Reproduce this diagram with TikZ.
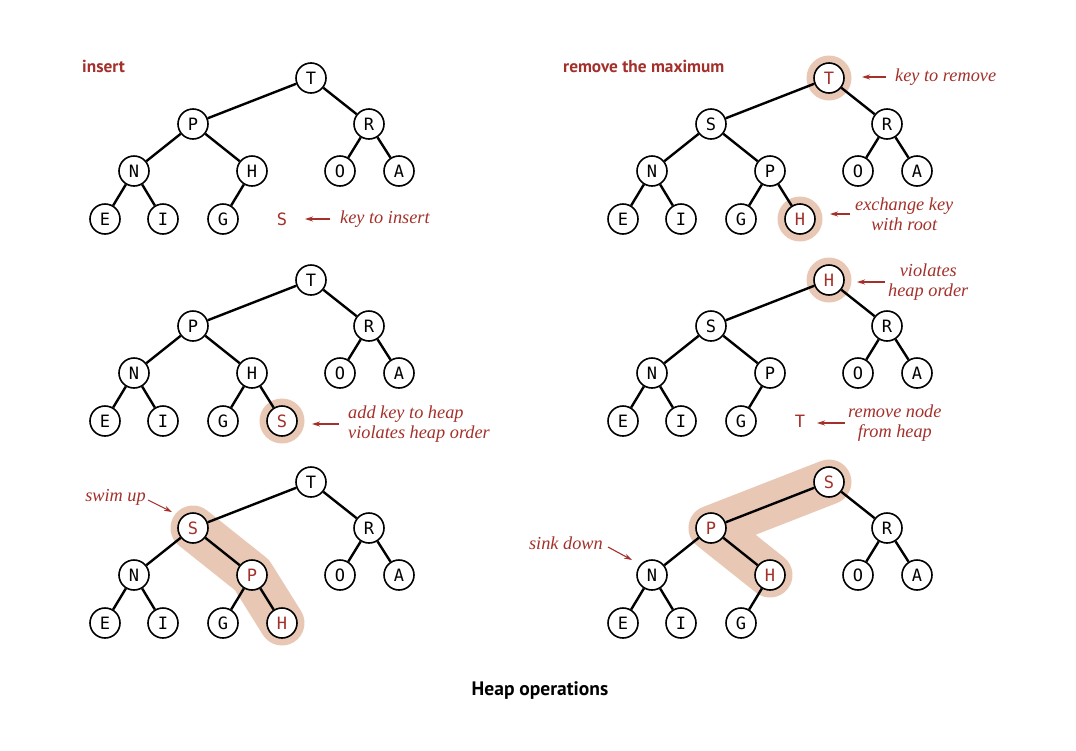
\documentclass[tikz,border=0pt]{standalone}
\usepackage{fontspec}
\newfontfamily\keyfont{DejaVu Sans Mono}
\newfontfamily\notefont{Liberation Serif}
\newfontfamily\headfont{PT Sans}
\usetikzlibrary{arrows.meta,backgrounds}
\definecolor{keyred}{HTML}{A3302A}
\definecolor{glow}{HTML}{E8C8B4}
\tikzset{
  key/.style={circle,draw=black,line width=1.6pt,fill=white,minimum size=30pt,
    inner sep=0pt,font=\keyfont\fontsize{17}{17}\selectfont},
  hot/.style={text=keyred},
  loose/.style={inner sep=0pt,font=\keyfont\fontsize{17}{17}\selectfont,text=keyred},
  link/.style={line width=2.4pt},
  note/.style={font=\notefont\itshape\fontsize{18.3}{19.5}\selectfont,text=keyred,
    inner sep=0pt,align=center},
  pointer/.style={draw=keyred,line width=1.1pt,-{Stealth[length=8pt,width=5pt]}},
  halo/.style={fill=glow},
  band/.style={draw=glow,line width=45pt,line cap=round,line join=round},
  title/.style={font=\headfont\bfseries\fontsize{17.3}{17.3}\selectfont,text=keyred,
    anchor=west,inner sep=0pt},
}
% links of the ten fixed slots: r root, a/b level 1, c-f level 2, g-i level 3
\newcommand\heaplinks[1]{%
  \draw[link] (#1r)--(#1a) (#1r)--(#1b) (#1a)--(#1c) (#1a)--(#1d)
    (#1b)--(#1e) (#1b)--(#1f) (#1c)--(#1g) (#1c)--(#1h) (#1d)--(#1i);}
\begin{document}
\begin{tikzpicture}[x=1pt,y=-1pt]
\path[use as bounding box] (0,0) rectangle (1076,750);

% ---------- insert: the new key ----------
\begin{scope}[shift={(311,78)}]
  \node[key] (Ar) at (0,0) {T};
  \node[key] (Aa) at (-118,46) {P};
  \node[key] (Ab) at (58,46) {R};
  \node[key] (Ac) at (-177,93) {N};
  \node[key] (Ad) at (-59,93) {H};
  \node[key] (Ae) at (29,93) {O};
  \node[key] (Af) at (88,93) {A};
  \node[key] (Ag) at (-206,141) {E};
  \node[key] (Ah) at (-148,141) {I};
  \node[key] (Ai) at (-88,141) {G};
  \node[loose] (Aj) at (-29,141) {S};
\end{scope}
\heaplinks{A}

% ---------- remove the maximum: key to remove ----------
\begin{scope}[shift={(829,78)}]
  \node[key,hot] (Br) at (0,0) {T};
  \node[key] (Ba) at (-118,46) {S};
  \node[key] (Bb) at (58,46) {R};
  \node[key] (Bc) at (-177,93) {N};
  \node[key] (Bd) at (-59,93) {P};
  \node[key] (Be) at (29,93) {O};
  \node[key] (Bf) at (88,93) {A};
  \node[key] (Bg) at (-206,141) {E};
  \node[key] (Bh) at (-148,141) {I};
  \node[key] (Bi) at (-88,141) {G};
  \node[key,hot] (Bj) at (-29,141) {H};
\end{scope}
\heaplinks{B}
\draw[link] (Bd)--(Bj);

% ---------- insert: key added at the bottom ----------
\begin{scope}[shift={(311,280)}]
  \node[key] (Cr) at (0,0) {T};
  \node[key] (Ca) at (-118,46) {P};
  \node[key] (Cb) at (58,46) {R};
  \node[key] (Cc) at (-177,93) {N};
  \node[key] (Cd) at (-59,93) {H};
  \node[key] (Ce) at (29,93) {O};
  \node[key] (Cf) at (88,93) {A};
  \node[key] (Cg) at (-206,141) {E};
  \node[key] (Ch) at (-148,141) {I};
  \node[key] (Ci) at (-88,141) {G};
  \node[key,hot] (Cj) at (-29,141) {S};
\end{scope}
\heaplinks{C}
\draw[link] (Cd)--(Cj);

% ---------- remove the maximum: exchanged root ----------
\begin{scope}[shift={(829,280)}]
  \node[key,hot] (Dr) at (0,0) {H};
  \node[key] (Da) at (-118,46) {S};
  \node[key] (Db) at (58,46) {R};
  \node[key] (Dc) at (-177,93) {N};
  \node[key] (Dd) at (-59,93) {P};
  \node[key] (De) at (29,93) {O};
  \node[key] (Df) at (88,93) {A};
  \node[key] (Dg) at (-206,141) {E};
  \node[key] (Dh) at (-148,141) {I};
  \node[key] (Di) at (-88,141) {G};
  \node[loose] (Dj) at (-29,141) {T};
\end{scope}
\heaplinks{D}

% ---------- insert: after swim ----------
\begin{scope}[shift={(311,482)}]
  \node[key] (Er) at (0,0) {T};
  \node[key,hot] (Ea) at (-118,46) {S};
  \node[key] (Eb) at (58,46) {R};
  \node[key] (Ec) at (-177,93) {N};
  \node[key,hot] (Ed) at (-59,93) {P};
  \node[key] (Ee) at (29,93) {O};
  \node[key] (Ef) at (88,93) {A};
  \node[key] (Eg) at (-206,141) {E};
  \node[key] (Eh) at (-148,141) {I};
  \node[key] (Ei) at (-88,141) {G};
  \node[key,hot] (Ej) at (-29,141) {H};
\end{scope}
\heaplinks{E}
\draw[link] (Ed)--(Ej);

% ---------- remove the maximum: after sink ----------
\begin{scope}[shift={(829,482)}]
  \node[key,hot] (Fr) at (0,0) {S};
  \node[key,hot] (Fa) at (-118,46) {P};
  \node[key] (Fb) at (58,46) {R};
  \node[key] (Fc) at (-177,93) {N};
  \node[key,hot] (Fd) at (-59,93) {H};
  \node[key] (Fe) at (29,93) {O};
  \node[key] (Ff) at (88,93) {A};
  \node[key] (Fg) at (-206,141) {E};
  \node[key] (Fh) at (-148,141) {I};
  \node[key] (Fi) at (-88,141) {G};
\end{scope}
\heaplinks{F}

% ---------- highlights behind the keys ----------
\begin{scope}[on background layer]
  \fill[halo] (Br) circle[radius=22.5pt];
  \fill[halo] (Bj) circle[radius=22.5pt];
  \fill[halo] (Cj) circle[radius=22.5pt];
  \fill[halo] (Dr) circle[radius=22.5pt];
  \draw[band] (Ea.center) -- (Ed.center) -- (Ej.center);
  \draw[band] (Fr.center) -- (Fa.center) -- (Fd.center);
\end{scope}

% ---------- headings ----------
\node[title] (insT) at (82,66) {insert};
\node[title] (remT) at (563,66) {remove the maximum};
\node[title,text=black,anchor=center,font=\headfont\bfseries\fontsize{19.5}{19.5}\selectfont]
  (capT) at (540,691) {Heap operations};

% ---------- notes and pointers ----------
\node[note,anchor=west] (n1) at (340,219) {key to insert};
\draw[pointer,shorten <=10pt,shorten >=23pt] (n1.west) -- (n1.west -| Aj);

\node[note,anchor=west] (n2) at (895,77) {key to remove};
\draw[pointer,shorten <=9pt,shorten >=33pt] (n2.west) -- (n2.west -| Br);

\node[note,anchor=west] (n3) at (855,214) {exchange key\\with root};
\draw[pointer,shorten <=5pt,shorten >=30pt] (n3.west) -- (n3.west -| Bj);

\node[note,anchor=west] (n4) at (888,282) {violates\\heap order};
\draw[pointer,shorten <=3pt,shorten >=28pt] (n4.west) -- (n4.west -| Dr);

\node[note,anchor=west,align=left] (n5) at (348,424) {add key to heap\\violates heap order};
\draw[pointer,shorten <=9pt,shorten >=30pt] (n5.west) -- (n5.west -| Cj);

\node[note,anchor=west] (n6) at (848,423) {remove node\\from heap};
\draw[pointer,shorten <=3pt,shorten >=17pt] (n6.west) -- (n6.west -| Dj);

\node[note,anchor=east] (n7) at (146,497) {swim up};
\draw[pointer] ([xshift=2pt,yshift=-3pt]n7.east) -- ([xshift=-21pt,yshift=16pt]Ea.center);

\node[note,anchor=east] (n8) at (603,543) {sink down};
\draw[pointer] ([xshift=5pt,yshift=-4pt]n8.east) -- ([xshift=-20pt,yshift=15pt]Fc.center);
\end{tikzpicture}
\end{document}
